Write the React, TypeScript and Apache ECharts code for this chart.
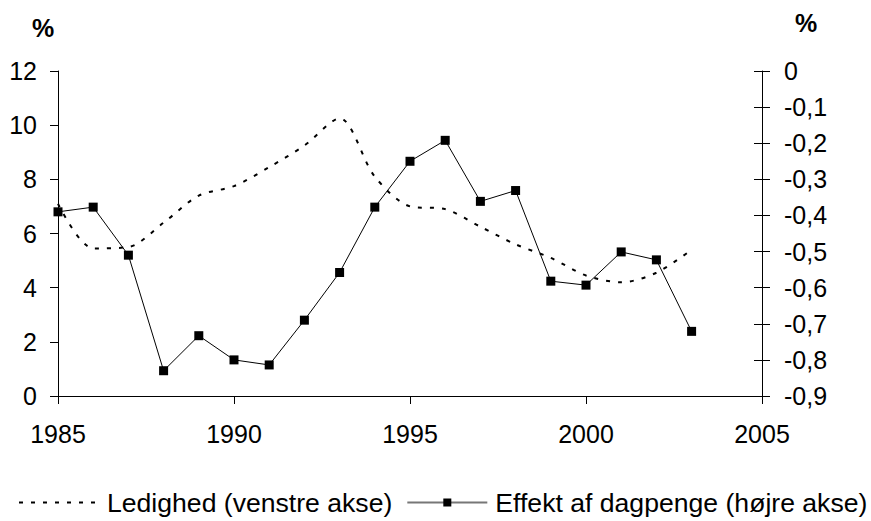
import React, { useEffect, useRef } from 'react';
import * as echarts from 'echarts';

const years = [1985, 1986, 1987, 1988, 1989, 1990, 1991, 1992, 1993, 1994, 1995, 1996, 1997, 1998, 1999, 2000, 2001, 2002, 2003];
const ledighed = [7.1, 5.45, 5.5, 6.4, 7.4, 7.75, 8.45, 9.25, 10.25, 8.1, 7.0, 6.9, 6.25, 5.6, 5.1, 4.45, 4.2, 4.55, 5.4];
const effekt = [-0.39, -0.377, -0.51, -0.83, -0.733, -0.8, -0.814, -0.69, -0.558, -0.377, -0.25, -0.192, -0.361, -0.331, -0.582, -0.593, -0.501, -0.523, -0.721];

const seriesNames = ['Ledighed (venstre akse)', 'Effekt af dagpenge (højre akse)'];
const FONT = 'Liberation Sans, Arial, sans-serif';

export default function App() {
  const ref = useRef<HTMLDivElement>(null);
  useEffect(() => {
    const chart = echarts.init(ref.current!, null, { renderer: 'svg' });
    chart.setOption({
      animation: false,
      backgroundColor: '#fff',
      textStyle: { fontFamily: FONT },
      grid: { left: 58, right: 109, top: 71, bottom: 125, containLabel: false },
      xAxis: {
        type: 'value',
        min: 1985,
        max: 2005,
        interval: 5,
        axisLine: { show: true, lineStyle: { color: '#000', width: 1 } },
        axisTick: { show: true, length: 8, inside: false, lineStyle: { color: '#000' } },
        axisLabel: { fontSize: 25, color: '#000', margin: 25, fontFamily: FONT, formatter: (v: number) => String(Math.round(v)) },
        splitLine: { show: false },
      },
      yAxis: [
        {
          type: 'value',
          position: 'left',
          min: 0,
          max: 12,
          interval: 2,
          axisLine: { show: true, lineStyle: { color: '#000', width: 1 } },
          axisTick: { show: true, length: 8, lineStyle: { color: '#000' } },
          axisLabel: { fontSize: 25, color: '#000', margin: 21, fontFamily: FONT },
          splitLine: { show: false },
        },
        {
          type: 'value',
          position: 'right',
          min: -0.9,
          max: 0,
          interval: 0.1,
          axisLine: { show: true, onZero: false, lineStyle: { color: '#000', width: 1 } },
          axisTick: { show: true, length: 8, lineStyle: { color: '#000' } },
          axisLabel: {
            fontSize: 25,
            color: '#000',
            margin: 22,
            fontFamily: FONT,
            formatter: (v: number) => (Math.abs(v) < 1e-9 ? '0' : v.toFixed(1).replace('.', ',')),
          },
          splitLine: { show: false },
        },
        {
          type: 'value',
          position: 'right',
          min: -0.9,
          max: 0,
          interval: 0.1,
          axisLine: { show: false },
          axisTick: { show: true, inside: true, length: 8, lineStyle: { color: '#000' } },
          axisLabel: { show: false },
          splitLine: { show: false },
        },
      ],
      legend: {
        left: 18,
        top: 489,
        padding: 0,
        itemWidth: 80,
        itemHeight: 10,
        itemGap: 14,
        textStyle: { fontSize: 26.6, color: '#000', fontFamily: FONT, padding: [0, 0, 0, 3] },
        data: [
          { name: seriesNames[0], itemStyle: { opacity: 0 } },
          { name: seriesNames[1], lineStyle: { color: '#777' } },
        ],
      },
      graphic: [
        { type: 'text', left: 32, top: 15, style: { text: '%', font: `bold 25px ${FONT}`, fill: '#000' } },
        { type: 'text', left: 795, top: 10, style: { text: '%', font: `bold 25px ${FONT}`, fill: '#000' } },
      ],
      series: [
        {
          name: seriesNames[0],
          type: 'line',
          yAxisIndex: 0,
          data: years.map((y, i) => [y, ledighed[i]]),
          symbol: 'none',
          smooth: 0.3,
          lineStyle: { color: '#000', width: 2, type: [4, 8] },
          itemStyle: { color: '#000' },
        },
        {
          name: seriesNames[1],
          type: 'line',
          yAxisIndex: 1,
          data: years.map((y, i) => [y, effekt[i]]),
          symbol: 'rect',
          symbolSize: 9,
          lineStyle: { color: '#000', width: 1 },
          itemStyle: { color: '#000' },
        },
      ],
    });
    return () => chart.dispose();
  }, []);
  return <div ref={ref} style={{ position: 'fixed', left: 0, top: 0, width: 871, height: 521 }} />;
}
